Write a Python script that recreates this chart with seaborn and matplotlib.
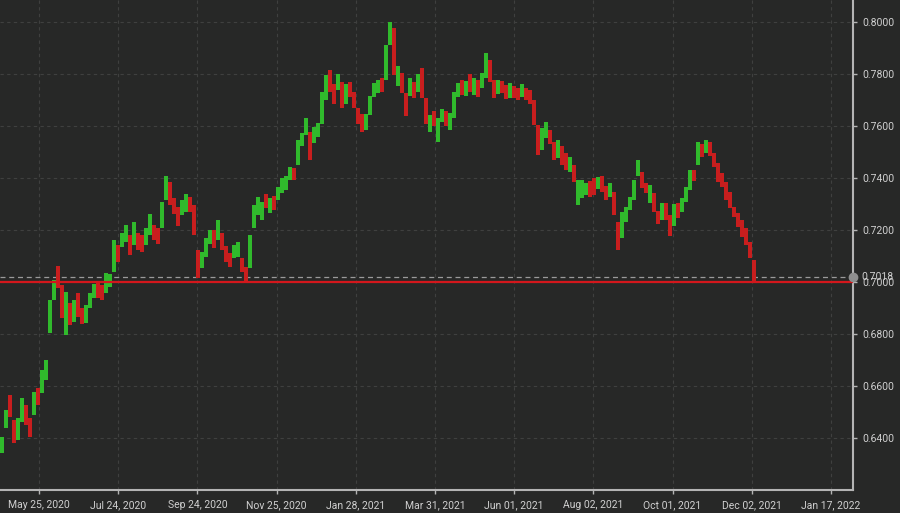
import numpy as np
import pandas as pd
import matplotlib
matplotlib.use("Agg")
import matplotlib.pyplot as plt
import seaborn as sns

# AUD/USD: cuerpo de cada vela (apertura / cierre)
opens = [
    0.6342, 0.6438, 0.6565, 0.6469, 0.6392, 0.6462, 0.6527, 0.6477, 0.6488, 0.6592,
    0.6573, 0.6623, 0.6804, 0.6931, 0.7062, 0.6988, 0.6796, 0.6919, 0.6846, 0.6958,
    0.6900, 0.6842, 0.6900, 0.6938, 0.6996, 0.6988, 0.6958, 0.6981, 0.7038, 0.7142,
    0.7135, 0.7154, 0.7181, 0.7142, 0.7188, 0.7181, 0.7142, 0.7181, 0.7219, 0.7208,
    0.7208, 0.7315, 0.7385, 0.7323, 0.7288, 0.7258, 0.7269, 0.7327, 0.7296, 0.7123,
    0.7054, 0.7096, 0.7146, 0.7200, 0.7162, 0.7188, 0.7138, 0.7112, 0.7092, 0.7096,
    0.7092, 0.7058, 0.7054, 0.7208, 0.7258, 0.7238, 0.7338, 0.7265, 0.7331, 0.7315,
    0.7342, 0.7354, 0.7392, 0.7438, 0.7450, 0.7523, 0.7565, 0.7577, 0.7535, 0.7558,
    0.7608, 0.7700, 0.7815, 0.7762, 0.7738, 0.7769, 0.7685, 0.7769, 0.7731, 0.7669,
    0.7646, 0.7585, 0.7642, 0.7712, 0.7727, 0.7785, 0.7777, 0.7912, 0.7977, 0.7754,
    0.7804, 0.7727, 0.7715, 0.7769, 0.7731, 0.7823, 0.7708, 0.7577, 0.7658, 0.7538,
    0.7615, 0.7658, 0.7585, 0.7631, 0.7712, 0.7777, 0.7715, 0.7800, 0.7719, 0.7777,
    0.7746, 0.7785, 0.7854, 0.7777, 0.7723, 0.7773, 0.7758, 0.7708, 0.7754, 0.7746,
    0.7712, 0.7746, 0.7738, 0.7700, 0.7604, 0.7508, 0.7554, 0.7585, 0.7538, 0.7477,
    0.7523, 0.7496, 0.7423, 0.7450, 0.7296, 0.7323, 0.7335, 0.7388, 0.7400, 0.7358,
    0.7408, 0.7369, 0.7327, 0.7346, 0.7231, 0.7169, 0.7231, 0.7277, 0.7315, 0.7408,
    0.7423, 0.7381, 0.7304, 0.7342, 0.7273, 0.7238, 0.7304, 0.7258, 0.7215, 0.7304,
    0.7269, 0.7308, 0.7354, 0.7431, 0.7450, 0.7531, 0.7496, 0.7538, 0.7496, 0.7458,
    0.7419, 0.7385, 0.7346, 0.7288, 0.7265, 0.7238, 0.7208, 0.7154, 0.7085,
]
closes = [
    0.6404, 0.6508, 0.6481, 0.6381, 0.6477, 0.6554, 0.6450, 0.6404, 0.6577, 0.6527,
    0.6662, 0.6700, 0.6931, 0.7008, 0.6977, 0.6862, 0.6962, 0.6835, 0.6931, 0.6865,
    0.6838, 0.6912, 0.6958, 0.6992, 0.6938, 0.6931, 0.7035, 0.7031, 0.7162, 0.7077,
    0.7188, 0.7219, 0.7104, 0.7231, 0.7123, 0.7115, 0.7208, 0.7262, 0.7162, 0.7146,
    0.7308, 0.7408, 0.7296, 0.7262, 0.7215, 0.7315, 0.7338, 0.7269, 0.7181, 0.7015,
    0.7115, 0.7169, 0.7200, 0.7131, 0.7238, 0.7123, 0.7077, 0.7058, 0.7142, 0.7154,
    0.7038, 0.6996, 0.7181, 0.7296, 0.7327, 0.7308, 0.7285, 0.7323, 0.7277, 0.7365,
    0.7400, 0.7408, 0.7442, 0.7392, 0.7546, 0.7573, 0.7631, 0.7469, 0.7596, 0.7612,
    0.7731, 0.7796, 0.7731, 0.7685, 0.7800, 0.7669, 0.7762, 0.7712, 0.7669, 0.7608,
    0.7577, 0.7646, 0.7715, 0.7765, 0.7777, 0.7731, 0.7912, 0.8000, 0.7796, 0.7831,
    0.7727, 0.7638, 0.7785, 0.7708, 0.7800, 0.7708, 0.7608, 0.7642, 0.7600, 0.7631,
    0.7665, 0.7600, 0.7650, 0.7731, 0.7765, 0.7719, 0.7773, 0.7731, 0.7785, 0.7712,
    0.7804, 0.7881, 0.7769, 0.7708, 0.7777, 0.7727, 0.7704, 0.7765, 0.7708, 0.7700,
    0.7762, 0.7700, 0.7685, 0.7604, 0.7488, 0.7592, 0.7615, 0.7531, 0.7469, 0.7546,
    0.7450, 0.7431, 0.7481, 0.7385, 0.7392, 0.7392, 0.7381, 0.7327, 0.7335, 0.7404,
    0.7346, 0.7315, 0.7381, 0.7258, 0.7123, 0.7269, 0.7288, 0.7327, 0.7392, 0.7469,
    0.7362, 0.7342, 0.7373, 0.7269, 0.7223, 0.7304, 0.7238, 0.7177, 0.7300, 0.7246,
    0.7323, 0.7365, 0.7431, 0.7388, 0.7538, 0.7481, 0.7546, 0.7485, 0.7442, 0.7385,
    0.7365, 0.7315, 0.7285, 0.7250, 0.7212, 0.7173, 0.7142, 0.7092, 0.7005,
]

date_labels = ["May 25, 2020", "Jul 24, 2020", "Sep 24, 2020", "Nov 25, 2020",
               "Jan 28, 2021", "Mar 31, 2021", "Jun 01, 2021", "Aug 02, 2021",
               "Oct 01, 2021", "Dec 02, 2021", "Jan 17, 2022"]
price_ticks = [0.64, 0.66, 0.68, 0.70, 0.72, 0.74, 0.76, 0.78, 0.80]
support = 0.7000
last_price = 0.7018

BG = "#272827"
UP = "#30ba2c"
DOWN = "#c81e1e"
TXT = "#d0d0d0"
AXC = "#b4b4b4"

df = pd.DataFrame({"open": opens, "close": closes})
df["idx"] = np.arange(len(df))
df["low"] = df[["open", "close"]].min(axis=1)
df["body"] = (df["close"] - df["open"]).abs()
df["color"] = np.where(df["close"] >= df["open"], UP, DOWN)

sns.set_theme(style="dark", rc={"axes.facecolor": BG, "figure.facecolor": BG})
plt.rcParams["font.family"] = ["Roboto", "DejaVu Sans"]

fig = plt.figure(figsize=(9, 5.13), dpi=100)
ax = fig.add_axes([0, 23 / 513, 853 / 900, 490 / 513])

# rejilla punteada tenue
ax.grid(True, color="#3f403f", linestyle=(0, (3, 3)), linewidth=0.8)

# velas
ax.bar(df["idx"], df["body"], bottom=df["low"], width=0.9,
       color=df["color"], linewidth=0, zorder=3)

# soporte y último precio
ax.axhline(support, color="#d3171c", linewidth=1.6, zorder=4)
ax.axhline(last_price, color="#9a9a9a", linestyle=(0, (4, 3)), linewidth=0.9, zorder=2)
ax.plot(1, last_price, "o", transform=ax.get_yaxis_transform(), clip_on=False,
        markersize=6, color="#8e8e8e", zorder=5)

ax.set_xlim(-0.5, 212.75)
ax.set_ylim(0.62, 0.80846)

ax.set_xticks(np.linspace(9.25, 207.25, len(date_labels)))
ax.set_xticklabels(date_labels)
ax.yaxis.tick_right()
ax.set_yticks(price_ticks)
ax.set_yticklabels([f"{v:.4f}" for v in price_ticks])
ax.text(1.0 + 8 / 853, last_price, f"{last_price:.4f}",
        transform=ax.get_yaxis_transform(), ha="left", va="center",
        color=TXT, fontsize=7.5, clip_on=False)

ax.tick_params(axis="both", which="both", length=3, width=1, color=AXC,
               labelcolor=TXT, labelsize=7.5, pad=4,
               bottom=True, right=True, left=False, top=False)

for side in ["top", "left"]:
    ax.spines[side].set_visible(False)
for side in ["bottom", "right"]:
    ax.spines[side].set_color(AXC)
    ax.spines[side].set_linewidth(1.5)

ax.set_xlabel("")
ax.set_ylabel("")

fig.savefig("out.png", dpi=100, facecolor=BG)
